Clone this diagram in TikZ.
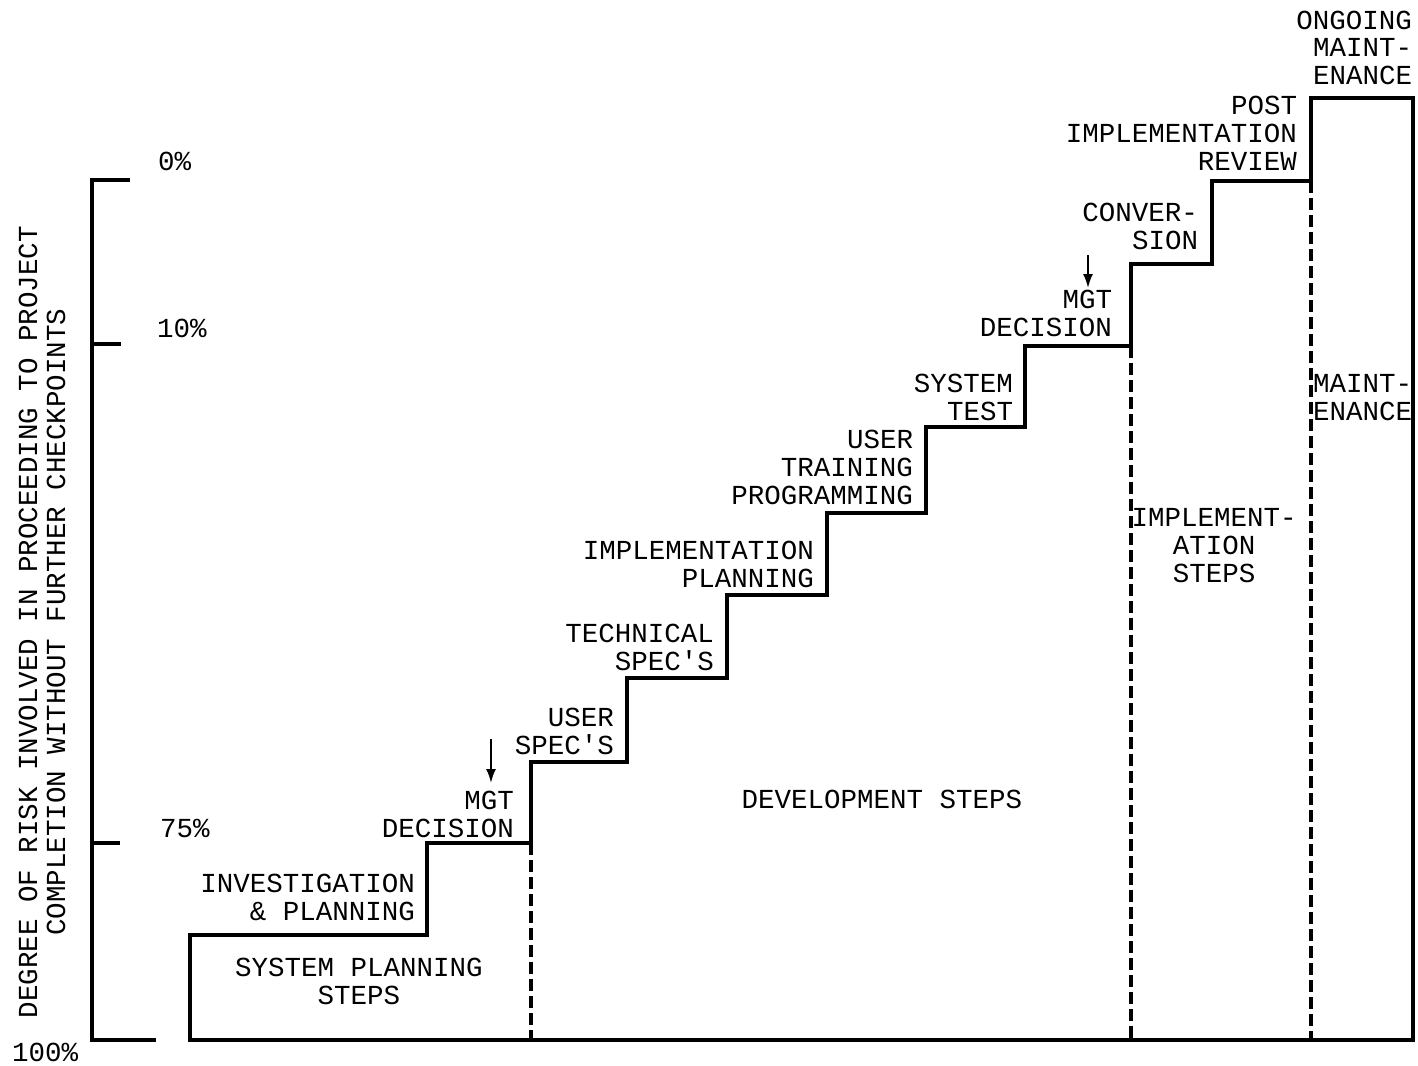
\documentclass[tikz,border=0pt]{standalone}
\usepackage{fontspec}
\newfontfamily\tw{Liberation Mono}
\usetikzlibrary{arrows.meta}
\begin{document}
\begin{tikzpicture}[x=0.5pt,y=-0.5pt,
  lbl/.style={font=\tw\fontsize{13.75}{14}\selectfont, inner sep=0pt, outer sep=0pt},
  rlbl/.style={lbl, align=right, anchor=base east},
  clbl/.style={lbl, align=center, anchor=base},
  llbl/.style={lbl, align=left, anchor=base west},
  stair/.style={line width=2pt, line join=miter},
  axis/.style={line width=2pt},
  divider/.style={line width=1.8pt, dash pattern=on 6pt off 2.5pt},
  mgtarrow/.style={line width=1pt, -{Latex[length=7pt,width=5pt]}}
]
\useasboundingbox[fill=white] (0,0) rectangle (1418,1065);

% axis
\draw[axis] (130,180) -- (92,180) -- (92,1040) -- (156,1040);
\draw[axis] (92,344) -- (121,344);
\draw[axis] (92,843) -- (120,843);

\node[lbl, anchor=west] (p0) at (158,161) {0\%};
\node[lbl, anchor=west] (p10) at (157,328) {10\%};
\node[lbl, anchor=west] (p75) at (160,828) {75\%};
\node[lbl, anchor=west] (p100) at (12,1052) {100\%};

\node[lbl, rotate=90, align=center] (ylab) at (42,622)
  {DEGREE OF RISK INVOLVED IN PROCEEDING TO PROJECT\\COMPLETION WITHOUT FURTHER CHECKPOINTS};

% staircase
\draw[stair] (190,1040) -- (190,935) -- (427,935) -- (427,843) -- (531,843)
  -- (531,762) -- (627,762) -- (627,678) -- (727,678) -- (727,595)
  -- (827,595) -- (827,513) -- (926,513) -- (926,427) -- (1025,427)
  -- (1025,346) -- (1131,346) -- (1131,264) -- (1212,264) -- (1212,181)
  -- (1311,181) -- (1311,98) -- (1413,98) -- (1413,1040) -- cycle;

% phase dividers
\draw[divider] (531,843) -- (531,1040);
\draw[divider] (1131,346) -- (1131,1040);
\draw[divider] (1311,181) -- (1311,1040);

% step labels (anchored at the baseline of the last line)
\node[rlbl] (inv) at (415,920) {INVESTIGATION\\\& PLANNING};
\node[rlbl] (mgt1) at (514,837) {MGT\\DECISION};
\node[clbl] (sps) at (359,1004) {SYSTEM PLANNING\\STEPS};
\node[rlbl] (us) at (614,754) {USER\\SPEC'S};
\node[rlbl] (tech) at (714,670) {TECHNICAL\\SPEC'S};
\node[rlbl] (implp) at (814,587) {IMPLEMENTATION\\PLANNING};
\node[rlbl] (utp) at (913,504) {USER\\TRAINING\\PROGRAMMING};
\node[rlbl] (st) at (1013,420) {SYSTEM\\TEST};
\node[rlbl] (mgt2) at (1112,336) {MGT\\DECISION};
\node[rlbl] (conv) at (1198,249) {CONVER-\\SION};
\node[rlbl] (post) at (1297,170) {POST\\IMPLEMENTATION\\REVIEW};
\node[rlbl] (ong) at (1412,85) {ONGOING\\MAINT-\\ENANCE};
\node[clbl] (dev) at (882,808) {DEVELOPMENT STEPS};
\node[clbl] (impls) at (1214,582) {IMPLEMENT-\\ATION\\STEPS};
\node[llbl] (maint) at (1313,420) {MAINT-\\ENANCE};

% management decision arrows
\coordinate (a1s) at (491,739);
\coordinate (a1e) at (491,783);
\draw[mgtarrow] (a1s) -- (a1e);
\coordinate (a2s) at (1088,255);
\coordinate (a2e) at (1088,288);
\draw[mgtarrow] (a2s) -- (a2e);
\end{tikzpicture}
\end{document}
